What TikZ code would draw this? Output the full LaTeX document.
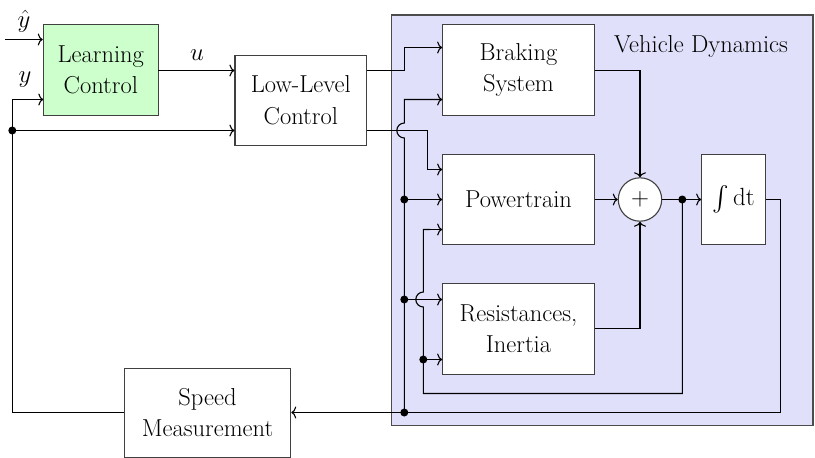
\documentclass[tikz,border=0pt]{standalone}
\usepackage{exscale}
\usetikzlibrary{arrows.meta}
\definecolor{vdfill}{RGB}{224,224,250}
\definecolor{lcfill}{RGB}{204,255,204}
\begin{document}
\begin{tikzpicture}[x=1pt,y=-1pt,
  font=\fontsize{24.5}{31.5}\selectfont,
  box/.style={draw=black!75, line width=1.1pt, fill=white, align=center, inner sep=0pt},
  wire/.style={line width=1.1pt, black},
  arr/.style={wire, -{To[length=5pt,width=12pt]}},
  dotc/.style={circle, fill=black, inner sep=0pt, minimum size=8pt}]
\useasboundingbox (0,0) rectangle (815,458);
% vehicle dynamics background
\path[draw=black!70, line width=1.1pt, fill=vdfill] (391.7,15) rectangle (813,425.7);
\node[anchor=base] (vdl) at (701,52) {Vehicle Dynamics};
% boxes
\node[box, fill=lcfill, minimum width=115pt, minimum height=91pt] (lc) at (100.8,69.8) {Learning\\Control};
\node[box, minimum width=131.7pt, minimum height=90.3pt] (llc) at (300.8,100.2) {Low-Level\\Control};
\node[box, minimum width=151.6pt, minimum height=91pt] (bs) at (518.5,69.8) {Braking\\System};
\node[box, minimum width=151.6pt, minimum height=90.7pt] (pt) at (518.5,199.5) {Powertrain};
\node[box, minimum width=151.6pt, minimum height=91pt] (rs) at (518.5,328.8) {Resistances,\\Inertia};
\node[box, minimum width=63.6pt, minimum height=90.7pt] (int) at (733.5,199.5) {$\vcenter{\hbox{\fontsize{34}{34}\selectfont$\int$}}\mathrm{\,dt}$};
\node[box, minimum width=166.4pt, minimum height=89.3pt] (sm) at (207.5,412.7) {Speed\\Measurement};
\node[draw=black!75, line width=1.1pt, fill=white, circle, minimum size=43.4pt, inner sep=0pt] (sum) at (640,199.5) {$+$};
% labels
\node (yhl) at (24,21) {$\hat{y}$};
\node (yl) at (25,80) {$y$};
\node (ul) at (197,55) {$u$};
% coordinates
\coordinate (yhin) at (5,39.5);
\coordinate (lcin2) at (43.3,99.5);
\coordinate (uo) at (158.3,70.5);
\coordinate (dL) at (12.3,130.5);
\coordinate (dB) at (404.3,412.5);
\coordinate (dP) at (404.3,199.5);
\coordinate (dR) at (404.3,299.5);
\coordinate (dI) at (682.3,199.5);
\coordinate (dR2) at (423.3,359.5);
% left side
\draw[arr] (yhin) -- (yhin -| lc.west);
\draw[arr] (sm.west |- dB) -| (dL) |- (lcin2);
\draw[arr] (dL) -- (dL -| llc.west);
\draw[arr] (uo) -- (uo -| llc.west);
% LLC outputs
\draw[arr] (llc.east |- 0,70.5) -- (404.3,70.5) |- (bs.west |- 0,47.5);
\draw[arr] (llc.east |- 0,130.5) -- (427.7,130.5) |- (pt.west |- 0,169.5);
% bus
\draw[wire] (dB) -- (404.3,138) arc[start angle=-90, end angle=-270, radius=7.5pt] -- (404.3,99.5) -- (bs.west |- 0,99.5);
\draw[arr] (420,99.5) -- (bs.west |- 0,99.5);
\draw[arr] (dP) -- (pt.west);
\draw[arr] (dR) -- (rs.west |- dR);
% feedback from integrator input
\draw[wire] (dI) -- (682.3,393.5) -- (423.3,393.5) -- (423.3,307) arc[start angle=-90, end angle=-270, radius=7.5pt] -- (423.3,229.5) -- (430,229.5);
\draw[arr] (428,229.5) -- (pt.west |- 0,229.5);
\draw[arr] (dR2) -- (rs.west |- dR2);
% sums
\draw[arr] (bs.east |- 0,70.5) -| (sum.north);
\draw[arr] (rs.east) -| (sum.south);
\draw[arr] (pt.east) -- (sum.west);
\draw[arr] (sum.east) -- (int.west);
\draw[arr] (int.east) -- (780.7,199.5) |- (sm.east |- dB);
% dots
\foreach \p in {dL,dB,dP,dR,dI,dR2} \node[dotc] at (\p) {};
\end{tikzpicture}
\end{document}
